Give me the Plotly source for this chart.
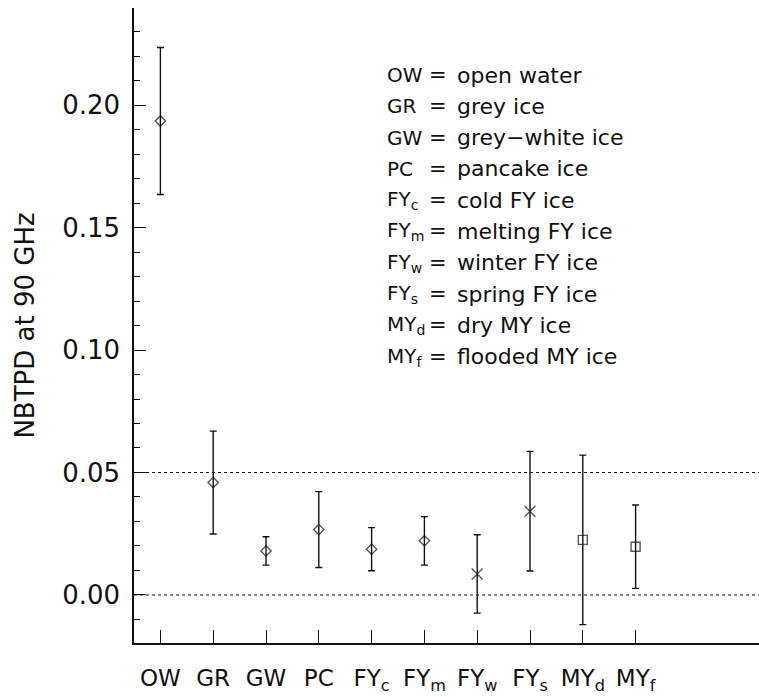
import plotly.graph_objects as go

# ---- data ----
categories = ["OW", "GR", "GW", "PC", "FYc", "FYm", "FYw", "FYs", "MYd", "MYf"]
tick_labels = ["OW", "GR", "GW", "PC", "FY<sub>c</sub>", "FY<sub>m</sub>",
               "FY<sub>w</sub>", "FY<sub>s</sub>", "MY<sub>d</sub>", "MY<sub>f</sub>"]
nbtpd_mean = [0.1935, 0.0459, 0.0180, 0.0267, 0.0187, 0.0221, 0.0086, 0.0342, 0.0225, 0.0197]
nbtpd_err = [0.0300, 0.0210, 0.0058, 0.0155, 0.0088, 0.0099, 0.0160, 0.0244, 0.0346, 0.0170]
reference_levels = [0.05, 0.0]
legend_keys = ["OW", "GR", "GW", "PC", "FY<sub>c</sub>", "FY<sub>m</sub>",
               "FY<sub>w</sub>", "FY<sub>s</sub>", "MY<sub>d</sub>", "MY<sub>f</sub>"]
legend_desc = ["open water", "grey ice", "grey\u2212white ice", "pancake ice",
               "cold FY ice", "melting FY ice", "winter FY ice", "spring FY ice",
               "dry MY ice", "flooded MY ice"]

# ---- styles ----
symbols = ["diamond-open"] * 6 + ["x-thin-open"] * 2 + ["square-open"] * 2
sizes = [8] * 6 + [11] * 2 + [9] * 2

FONT = "DejaVu Sans"
INK = "#111111"

x_pos = list(range(1, len(categories) + 1))

fig = go.Figure()
fig.add_trace(go.Scatter(
    x=x_pos, y=nbtpd_mean, mode="markers",
    marker=dict(symbol=symbols, size=sizes, color=INK,
                line=dict(color=INK, width=1.4)),
    error_y=dict(type="data", array=nbtpd_err, visible=True,
                 color=INK, thickness=1.4, width=3.5),
    showlegend=False, hoverinfo="skip",
))

for lv in reference_levels:
    fig.add_shape(type="line", xref="paper", x0=0, x1=1, yref="y", y0=lv, y1=lv,
                  line=dict(color=INK, width=1.2, dash="dot"), layer="below")

L, R, T, B = 134, 0, 8, 54
W, H = 759, 697
pw, ph = W - L - R, H - T - B

def px_x(px):
    return (px - L) / pw

def px_y(py):
    return (H - B - py) / ph

line_y0, line_dy = 75, 31.3
for i, (k, d) in enumerate(zip(legend_keys, legend_desc)):
    yy = px_y(line_y0 + i * line_dy)
    fig.add_annotation(xref="paper", yref="paper", x=px_x(385), y=yy, text=k,
                       showarrow=False, xanchor="left", yanchor="middle",
                       font=dict(family=FONT, size=20, color=INK))
    fig.add_annotation(xref="paper", yref="paper", x=px_x(438), y=yy, text="=",
                       showarrow=False, xanchor="center", yanchor="middle",
                       font=dict(family=FONT, size=21, color=INK))
    fig.add_annotation(xref="paper", yref="paper", x=px_x(455), y=yy, text=d,
                       showarrow=False, xanchor="left", yanchor="middle",
                       font=dict(family=FONT, size=22, color=INK))

fig.update_layout(
    width=W, height=H,
    margin=dict(l=L, r=R, t=T, b=B, pad=0),
    paper_bgcolor="white", plot_bgcolor="white",
    font=dict(family=FONT, color=INK),
    xaxis=dict(
        range=[0.5, 0.5 + pw / 52.8],
        tickmode="array", tickvals=x_pos, ticktext=tick_labels,
        ticks="inside", ticklen=13, tickwidth=1.2, tickcolor=INK,
        showline=True, linecolor=INK, linewidth=1.5,
        showgrid=False, zeroline=False,
        tickfont=dict(family=FONT, size=23, color=INK),
        ticklabelstandoff=14,
    ),
    yaxis=dict(
        range=[-0.0196, 0.2396],
        tickmode="linear", tick0=0, dtick=0.05, tickformat=".2f",
        ticks="inside", ticklen=12, tickwidth=1.2, tickcolor=INK,
        minor=dict(dtick=0.01, tick0=0, ticks="inside", ticklen=6,
                   tickwidth=1.4, tickcolor=INK, showgrid=False),
        showline=True, linecolor=INK, linewidth=1.5,
        showgrid=False, zeroline=False,
        tickfont=dict(family=FONT, size=26, color=INK),
        ticklabelstandoff=7,
        title=dict(text="NBTPD at 90 GHz", font=dict(family=FONT, size=26, color=INK),
                   standoff=20),
    ),
)

fig.write_html("out.html")
